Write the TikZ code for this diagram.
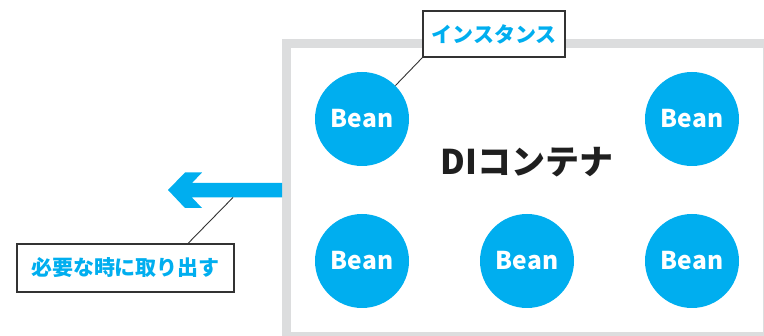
\documentclass[tikz,border=0pt]{standalone}
\usepackage{fontspec}
\setmainfont{Noto Sans CJK JP}
\definecolor{cyanb}{HTML}{00AEEF}
\definecolor{frameg}{HTML}{DCDDDE}
\definecolor{boxline}{HTML}{333333}
\begin{document}
\begin{tikzpicture}[x=1pt,y=-1pt,
  bean/.style={circle,fill=cyanb,minimum size=94pt,inner sep=0pt,text=white,font=\fontsize{24.5}{24.5}\selectfont\bfseries},
  callout/.style={draw=boxline,line width=1.1pt,fill=white,text=cyanb,inner sep=0pt,font=\fontsize{21}{21}\selectfont\bfseries},
  leader/.style={draw=boxline,line width=0.9pt}]
\useasboundingbox (0,0) rectangle (764,336);
% container frame
\draw[frameg,line width=9pt,fill=white] (286.5,43.5) rectangle (767.5,336.5);
\node[font=\fontsize{34}{34}\selectfont\bfseries,text=black!88] (di) at (527,162) {DIコンテナ};
% beans
\node[bean] (b1) at (362,119) {Bean};
\node[bean] (b2) at (692,119) {Bean};
\node[bean] (b3) at (362,261) {Bean};
\node[bean] (b4) at (527,261) {Bean};
\node[bean] (b5) at (692,261) {Bean};
% arrow
\fill[cyanb] (282,183) -- (192,183) -- (202,172.5) -- (185,172.5) -- (168,190)
  -- (185,208) -- (202,208) -- (192,197.5) -- (282,197.5) -- cycle;
\coordinate (shaftpt) at (233,197.5);
% callouts
\node[callout,minimum width=142pt,minimum height=46pt] (inst) at (494,34) {インスタンス};
\node[callout,minimum width=217pt,minimum height=48pt] (take) at (125.5,268) {必要な時に取り出す};
\draw[leader] (inst.south west) -- (b1.north east);
\draw[leader] ([xshift=62.5pt]take.north) -- (shaftpt);
\end{tikzpicture}
\end{document}
